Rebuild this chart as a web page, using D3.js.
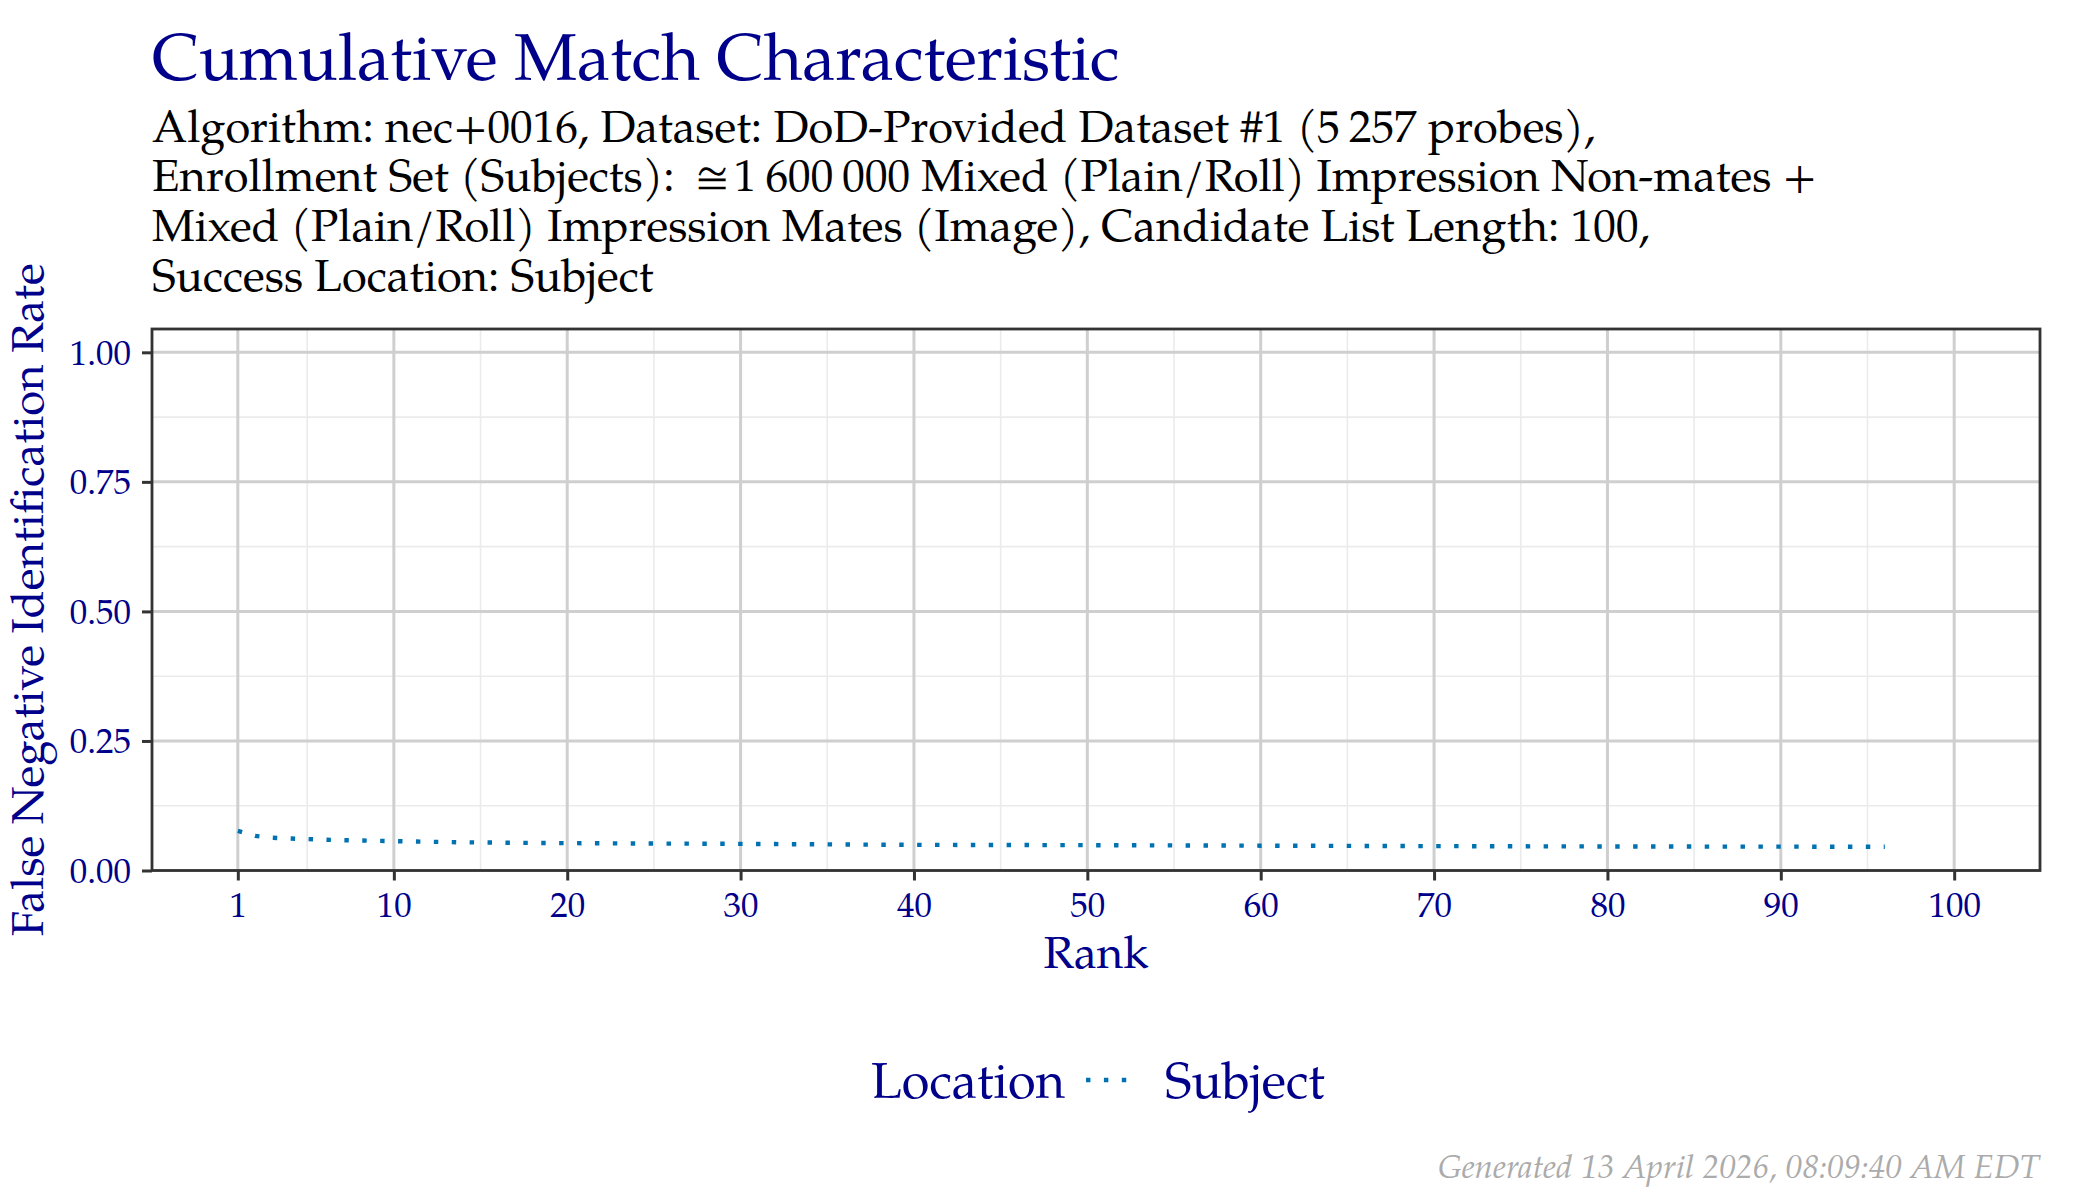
<!DOCTYPE html>
<html>
<head>
<meta charset="utf-8">
<script src="https://cdn.jsdelivr.net/npm/d3@7"></script>
<style>
  body { margin: 0; background: #fff; }
  text { font-family: "Palatino Linotype", Palatino, "TeX Gyre Pagella", "Liberation Serif", serif; }
</style>
</head>
<body>
<svg id="chart" width="2100" height="1200"></svg>
<script>

let ranks = d3.range(1, 97)
let fnir = [
  0.0765, 0.0668, 0.0632, 0.0617, 0.0606, 0.0594, 0.0586, 0.0579, 0.0573, 0.0567,
  0.0561, 0.0555, 0.0549, 0.0545, 0.0541, 0.0538, 0.0535, 0.0533, 0.0530, 0.0528,
  0.0527, 0.0525, 0.0523, 0.0522, 0.0521, 0.0519, 0.0518, 0.0517, 0.0516, 0.0514,
  0.0512, 0.0510, 0.0508, 0.0506, 0.0504, 0.0502, 0.0500, 0.0498, 0.0497, 0.0495,
  0.0494, 0.0494, 0.0493, 0.0493, 0.0492, 0.0491, 0.0491, 0.0490, 0.0490, 0.0489,
  0.0488, 0.0487, 0.0486, 0.0485, 0.0484, 0.0483, 0.0482, 0.0481, 0.0480, 0.0479,
  0.0478, 0.0477, 0.0477, 0.0476, 0.0475, 0.0474, 0.0473, 0.0472, 0.0471, 0.0470,
  0.0470, 0.0469, 0.0468, 0.0468, 0.0467, 0.0466, 0.0466, 0.0465, 0.0465, 0.0464,
  0.0464, 0.0463, 0.0463, 0.0462, 0.0462, 0.0461, 0.0461, 0.0461, 0.0460, 0.0460,
  0.0460, 0.0459, 0.0459, 0.0459, 0.0458, 0.0458
]
let series_name = "Subject"

let x_breaks = [1, 10, 20, 30, 40, 50, 60, 70, 80, 90, 100]
let x_minor = [5, 15, 25, 35, 45, 55, 65, 75, 85, 95]
let y_breaks = [0, 0.25, 0.5, 0.75, 1]
let y_minor = [0.125, 0.375, 0.625, 0.875]

let title = "Cumulative Match Characteristic"
let subtitle = [
  "Algorithm: nec+0016, Dataset: DoD-Provided Dataset #1 (5\u2009257 probes),",
  "Enrollment Set (Subjects): \u2009\u2245\u200a1\u2009600\u2009000 Mixed (Plain/Roll) Impression Non-mates +",
  "Mixed (Plain/Roll) Impression Mates (Image), Candidate List Length: 100,",
  "Success Location: Subject"
]
let x_title = "Rank"
let y_title = "False Negative Identification Rate"
let legend_title = "Location"
let caption = "Generated 13 April 2026, 08:09:40 AM EDT"

let panel = {left: 152, right: 2040, top: 329, bottom: 870.5}
let navy = "#00008b",
    line_col = "#0072b2",
    dots = "4.45 13.45"

function visualize() {
  let svg = d3.select("#chart")
  let scales = make_scales()
  draw_panel(svg, scales)
  draw_axes(svg, scales)
  draw_line(svg, scales)
  annotate(svg)
}

function make_scales() {
  return {
    x: d3.scaleLinear()
      .domain([1 - 99 * 0.05, 100 + 99 * 0.05])
      .range([panel.left, panel.right]),
    y: d3.scaleLinear()
      .domain([0, 1.045])
      .range([panel.bottom, panel.top])
  }
}

function draw_panel(svg, scales) {
  let g = svg.append("g")
  // minor grid first, then major on top
  g.selectAll(".xminor").data(x_minor).enter()
    .append("line")
    .attr("x1", d => scales.x(d)).attr("x2", d => scales.x(d))
    .attr("y1", panel.top).attr("y2", panel.bottom)
    .attr("stroke", "#ebebeb").attr("stroke-width", 1.6)
  g.selectAll(".yminor").data(y_minor).enter()
    .append("line")
    .attr("x1", panel.left).attr("x2", panel.right)
    .attr("y1", d => scales.y(d)).attr("y2", d => scales.y(d))
    .attr("stroke", "#ebebeb").attr("stroke-width", 1.6)
  g.selectAll(".xmajor").data(x_breaks).enter()
    .append("line")
    .attr("x1", d => scales.x(d)).attr("x2", d => scales.x(d))
    .attr("y1", panel.top).attr("y2", panel.bottom)
    .attr("stroke", "#cfcfcf").attr("stroke-width", 3)
  g.selectAll(".ymajor").data(y_breaks).enter()
    .append("line")
    .attr("x1", panel.left).attr("x2", panel.right)
    .attr("y1", d => scales.y(d)).attr("y2", d => scales.y(d))
    .attr("stroke", "#cfcfcf").attr("stroke-width", 3)
}

function draw_axes(svg, scales) {
  let xaxis = d3.axisBottom(scales.x)
    .tickValues(x_breaks)
    .tickSize(10)
    .tickPadding(8)
    .tickFormat(d3.format("d"))
  let yaxis = d3.axisLeft(scales.y)
    .tickValues(y_breaks)
    .tickSize(10)
    .tickPadding(11)
    .tickFormat(d3.format(".2f"))

  let gx = svg.append("g")
    .attr("transform", `translate(0, ${panel.bottom})`)
    .call(xaxis)
  let gy = svg.append("g")
    .attr("transform", `translate(${panel.left}, 0)`)
    .call(yaxis)

  for (let g of [gx, gy]) {
    g.select(".domain").remove()
    g.selectAll(".tick line").attr("stroke", "#333").attr("stroke-width", 3)
    g.selectAll(".tick text")
      .attr("fill", navy)
      .style("font-size", "35px")
  }
  gx.selectAll(".tick text").attr("dy", "0.8em")
  gy.selectAll(".tick text").attr("dy", "0.34em")

  svg.append("rect")
    .attr("x", panel.left).attr("y", panel.top)
    .attr("width", panel.right - panel.left)
    .attr("height", panel.bottom - panel.top)
    .attr("fill", "none").attr("stroke", "#333").attr("stroke-width", 2.8)
}

function draw_line(svg, scales) {
  let data = ranks.map((r, i) => ({rank: r, fnir: fnir[i]}))
  let line = d3.line()
    .x(d => scales.x(d.rank))
    .y(d => scales.y(d.fnir))
  svg.append("path")
    .datum(data)
    .attr("d", line)
    .attr("fill", "none")
    .attr("stroke", line_col)
    .attr("stroke-width", 4.4)
    .attr("stroke-dasharray", dots)
}

function annotate(svg) {
  svg.append("text")
    .attr("x", panel.left).attr("y", 80)
    .attr("fill", navy)
    .style("font-size", "66.4px")
    .text(title)

  svg.selectAll(".sub").data(subtitle).enter()
    .append("text")
    .attr("x", panel.left)
    .attr("y", (d, i) => 141.7 + i * 49.7)
    .attr("fill", "#000")
    .style("font-size", "45.2px")
    .text(d => d)

  svg.append("text")
    .attr("x", (panel.left + panel.right) / 2).attr("y", 968)
    .attr("text-anchor", "middle")
    .attr("fill", navy)
    .style("font-size", "45.5px")
    .text(x_title)

  svg.append("text")
    .attr("transform", `translate(43, ${(panel.top + panel.bottom) / 2}) rotate(-90)`)
    .attr("text-anchor", "middle")
    .attr("fill", navy)
    .style("font-size", "45.5px")
    .text(y_title)

  // legend at the bottom
  let lg = svg.append("g")
  lg.append("text")
    .attr("x", 871).attr("y", 1098)
    .attr("fill", navy)
    .style("font-size", "50.5px")
    .text(legend_title)
  lg.append("line")
    .attr("x1", 1086).attr("x2", 1134)
    .attr("y1", 1080).attr("y2", 1080)
    .attr("stroke", line_col)
    .attr("stroke-width", 4.4)
    .attr("stroke-dasharray", dots)
  lg.append("text")
    .attr("x", 1165).attr("y", 1098)
    .attr("fill", navy)
    .style("font-size", "50.5px")
    .text(series_name)

  svg.append("text")
    .attr("x", panel.right).attr("y", 1178)
    .attr("text-anchor", "end")
    .attr("fill", "#ababab")
    .style("font-size", "33.2px")
    .style("font-style", "italic")
    .text(caption)
}

visualize()
</script>
</body>
</html>
